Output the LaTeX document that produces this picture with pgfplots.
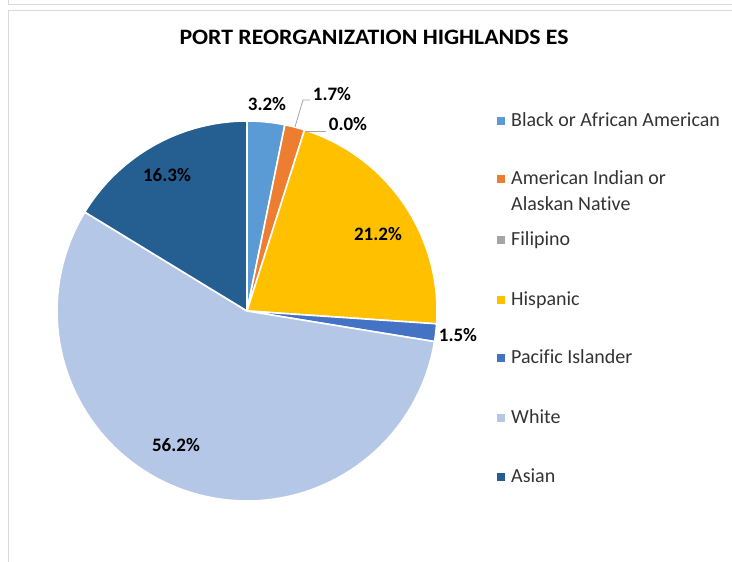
\documentclass[border=0pt]{standalone}
\usepackage{fontspec}
\setmainfont{Carlito}[Ligatures=NoCommon]
\usepackage{graphicx}
\usepackage{pgfplots}
\usepackage{pgfplotstable}
\pgfplotsset{compat=1.18}
\definecolor{slice0}{HTML}{5B9BD5}
\definecolor{slice1}{HTML}{ED7D31}
\definecolor{slice2}{HTML}{A5A5A5}
\definecolor{slice3}{HTML}{FFC000}
\definecolor{slice4}{HTML}{4472C4}
\definecolor{slice5}{HTML}{B4C7E7}
\definecolor{slice6}{HTML}{255E91}
\definecolor{framegray}{HTML}{D9D9D9}
\definecolor{leadgray}{HTML}{A6A6A6}
\definecolor{legtext}{HTML}{333333}
\begin{document}
\pgfplotstableread{
name value
Black 3.2
AmInd 1.7
Filipino 0.0
Hispanic 21.2
Pacific 1.5
White 56.2
Asian 16.3
}\piedata
\begin{tikzpicture}[x=1pt,y=1pt]
\path[use as bounding box] (0,0) rectangle (732,562);
\draw[framegray, line width=1pt] (8,562) -- (8,557.5) -- (732,557.5);
\draw[framegray, line width=1pt] (732,551.5) -- (8,551.5) -- (8,0);
\gdef\PieTot{0}
\pgfplotsforeachungrouped \i in {0,...,6}{%
  \pgfplotstablegetelem{\i}{value}\of{\piedata}%
  \pgfmathsetmacro{\PieTmp}{\PieTot+\pgfplotsretval}\xdef\PieTot{\PieTmp}}
\gdef\PieCur{90}
\pgfplotsforeachungrouped \i in {0,...,6}{%
  \pgfplotstablegetelem{\i}{value}\of{\piedata}%
  \xdef\PieVal{\pgfplotsretval}%
  \pgfmathsetmacro{\PieTmp}{\PieCur-(\PieVal/\PieTot)*360}%
  \expandafter\xdef\csname PieS\i\endcsname{\PieCur}%
  \expandafter\xdef\csname PieE\i\endcsname{\PieTmp}%
  \xdef\PieCur{\PieTmp}}
\begin{axis}[x=190pt,y=190pt,hide axis,xmin=-1.1,xmax=1.1,ymin=-1.1,ymax=1.1,
  clip=false,at={(247pt,251pt)},anchor=center]
\pgfplotsinvokeforeach{0,1,3,4,5,6}{%
  \edef\PieDo{\noexpand\addplot[fill=slice#1,draw=white,line width=1.6pt,line join=round,
      domain=\csname PieE#1\endcsname:\csname PieS#1\endcsname,samples=90]
      ({cos(x)},{sin(x)}) -- (axis cs:0,0) -- cycle;}%
  \PieDo
}
\end{axis}
% title
\node[anchor=base,font=\fontsize{22}{26}\selectfont\bfseries,inner sep=0pt] at (374,517) {\scalebox{1.08}[1]{PORT REORGANIZATION HIGHLANDS ES}};
% leader lines
\draw[leadgray,line width=0.8pt] (295,435) -- (303,462) -- (310,462);
\draw[leadgray,line width=0.8pt] (305,431) -- (326,431);
% data labels
\begin{scope}[every node/.style={font=\fontsize{19}{22}\selectfont\bfseries,inner sep=0pt}]
\node at (267,458) {3.2\%};
\node at (332,468) {1.7\%};
\node at (348,438) {0.0\%};
\node at (378,328) {21.2\%};
\node at (458,227) {1.5\%};
\node at (176,117) {56.2\%};
\node at (167,387) {16.3\%};
\end{scope}
% legend
\begin{scope}[every node/.style={font=\fontsize{20}{24}\selectfont,text=legtext,anchor=base west,inner sep=0pt}]
\fill[slice0] (497,437) rectangle (505,445); \node at (511,435) {Black or African American};
\fill[slice1] (497,379) rectangle (505,387); \node at (511,377) {American Indian or};
\node at (511,351) {Alaskan Native};
\fill[slice2] (497,318) rectangle (505,326); \node at (511,316) {Filipino};
\fill[slice3] (497,258) rectangle (505,266); \node at (511,256) {Hispanic};
\fill[slice4] (497,200) rectangle (505,208); \node at (511,198) {Pacific Islander};
\fill[slice5] (497,140) rectangle (505,148); \node at (511,138) {White};
\fill[slice6] (497,81) rectangle (505,89); \node at (511,79) {Asian};
\end{scope}
\end{tikzpicture}
\end{document}
